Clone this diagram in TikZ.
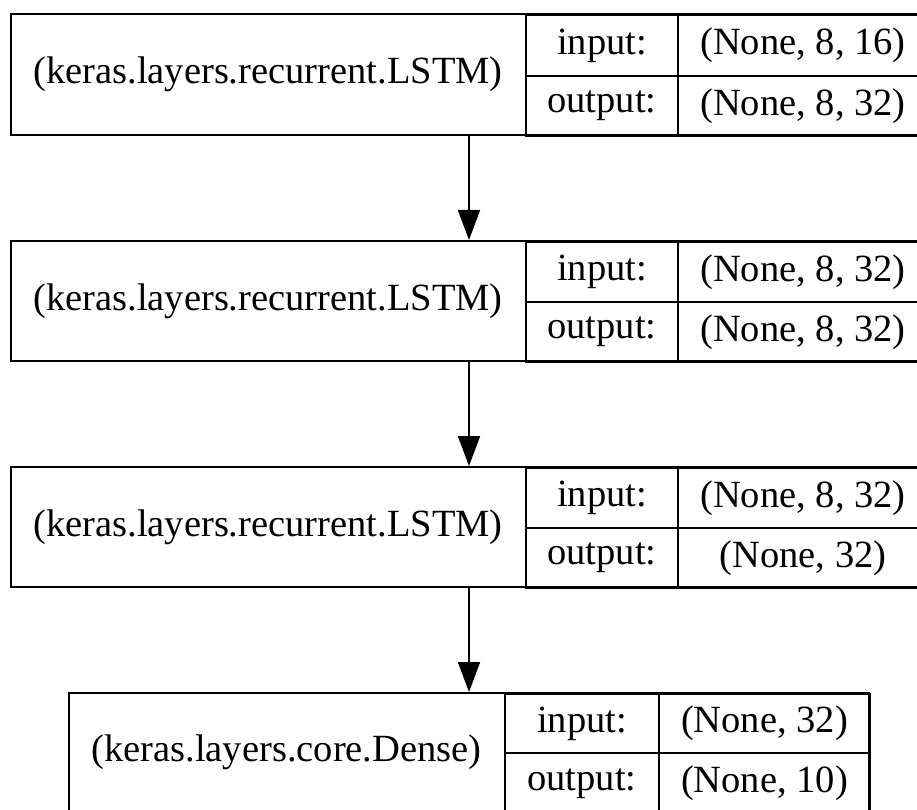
\documentclass[tikz,border=0pt]{standalone}
\usepackage{fontspec}
\setmainfont{Liberation Serif}
\usetikzlibrary{arrows.meta}
\begin{document}
\begin{tikzpicture}[x=1pt,y=-1pt,
  outer/.style={draw,line width=2pt,rectangle,inner sep=0pt},
  cell/.style={draw,line width=2pt,rectangle,inner sep=0pt,anchor=north west,font=\fontsize{38.5}{44}\selectfont},
  lbl/.style={inner sep=0pt,font=\fontsize{38.5}{44}\selectfont},
  conn/.style={line width=2pt,-{Triangle[length=30pt,width=22pt]}}]
\useasboundingbox (0,0) rectangle (917,810);
\clip (0,0) rectangle (917,810);
\fill[white] (0,0) rectangle (917,810);
% layer 1
\node[outer,minimum width=916pt,minimum height=121pt] (b1) at (469,74.5) {};
\node[lbl] (t1) at (268,74.5) {(keras.layers.recurrent.LSTM)};
\node[cell,minimum width=152pt,minimum height=61pt] (i1) at (525,14) {input:};
\node[cell,minimum width=152pt,minimum height=60pt] (o1) at (525,75) {output:};
\node[cell,minimum width=250pt,minimum height=61pt] (iv1) at (677,14) {(None, 8, 16)};
\node[cell,minimum width=250pt,minimum height=60pt] (ov1) at (677,75) {(None, 8, 32)};
% layer 2
\node[outer,minimum width=916pt,minimum height=120pt] (b2) at (469,301) {};
\node[lbl] (t2) at (268,301) {(keras.layers.recurrent.LSTM)};
\node[cell,minimum width=152pt,minimum height=60pt] (i2) at (525,241) {input:};
\node[cell,minimum width=152pt,minimum height=60pt] (o2) at (525,301) {output:};
\node[cell,minimum width=250pt,minimum height=60pt] (iv2) at (677,241) {(None, 8, 32)};
\node[cell,minimum width=250pt,minimum height=60pt] (ov2) at (677,301) {(None, 8, 32)};
% layer 3
\node[outer,minimum width=916pt,minimum height=120pt] (b3) at (469,527) {};
\node[lbl] (t3) at (268,527) {(keras.layers.recurrent.LSTM)};
\node[cell,minimum width=152pt,minimum height=60pt] (i3) at (525,467) {input:};
\node[cell,minimum width=152pt,minimum height=60pt] (o3) at (525,527) {output:};
\node[cell,minimum width=250pt,minimum height=60pt] (iv3) at (677,467) {(None, 8, 32)};
\node[cell,minimum width=250pt,minimum height=60pt] (ov3) at (677,527) {(None, 32)};
% layer 4
\node[outer,minimum width=800pt,minimum height=120pt] (b4) at (469,753) {};
\node[lbl] (t4) at (286.5,752) {(keras.layers.core.Dense)};
\node[cell,minimum width=154pt,minimum height=59pt] (i4) at (504,693) {input:};
\node[cell,minimum width=154pt,minimum height=61pt] (o4) at (504,752) {output:};
\node[cell,minimum width=211pt,minimum height=59pt] (iv4) at (658,693) {(None, 32)};
\node[cell,minimum width=211pt,minimum height=61pt] (ov4) at (658,752) {(None, 10)};
% connectors
\draw[conn] (b1.south) -- (b2.north);
\draw[conn] (b2.south) -- (b3.north);
\draw[conn] (b3.south) -- (b4.north);
\end{tikzpicture}
\end{document}
